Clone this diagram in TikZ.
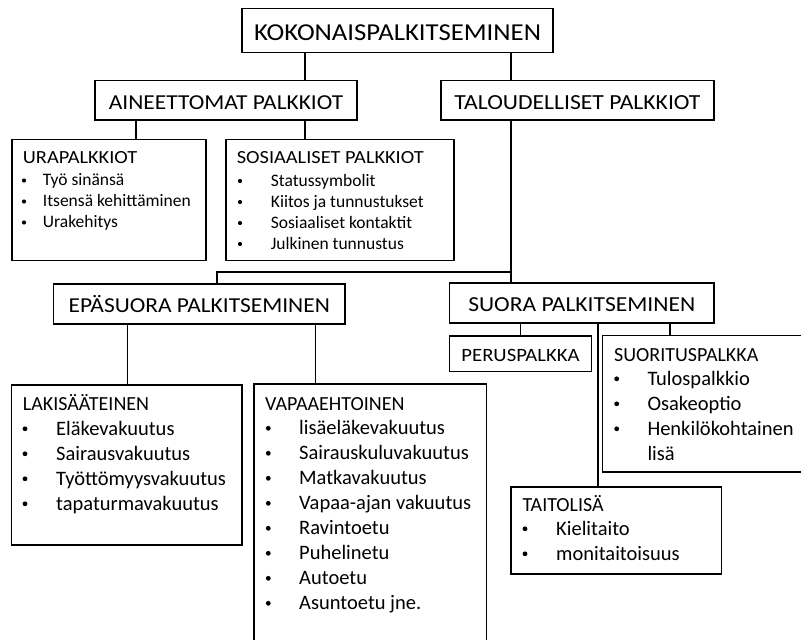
\documentclass[tikz,border=0pt]{standalone}
\usepackage{fontspec}
\setmainfont{Carlito}
\newfontfamily\widefont[FakeStretch=1.1]{Carlito}
\begin{document}
\begin{tikzpicture}[x=1pt,y=-1pt,
  box/.style={draw=black, line width=1.3pt, inner sep=0pt, outer sep=0pt},
  ln/.style={draw=black, line width=1.3pt},
  smallt/.style={anchor=base west, inner sep=0pt, font=\fontsize{17.5}{21}\selectfont},
  smallh/.style={anchor=base west, inner sep=0pt, font=\widefont\fontsize{18.5}{22}\selectfont},
  bigt/.style={anchor=base west, inner sep=0pt, font=\fontsize{20.5}{24}\selectfont},
  bigh/.style={anchor=base west, inner sep=0pt, font=\fontsize{20}{24}\selectfont},
  sdot/.style={circle, fill=black, inner sep=0pt, minimum size=4.2pt},
  bdot/.style={circle, fill=black, inner sep=0pt, minimum size=4.8pt}]
\clip (0,0) rectangle (801,640);
\useasboundingbox (0,0) rectangle (801,640);

% boxes
\node[box, minimum width=311, minimum height=44, font=\widefont\fontsize{24.3}{28}\selectfont, text height=19.6pt, text depth=0pt] (kok) at (397.5,30.3) {KOKONAISPALKITSEMINEN};
\node[box, minimum width=262, minimum height=39.7, font=\widefont\fontsize{21.3}{26}\selectfont, text height=17.7pt, text depth=0pt] (ain) at (226,100.2) {AINEETTOMAT PALKKIOT};
\node[box, minimum width=273, minimum height=39.7, font=\widefont\fontsize{21.5}{26}\selectfont, text height=17.8pt, text depth=0pt] (tal) at (577.5,100.2) {TALOUDELLISET PALKKIOT};
\node[box, minimum width=194, minimum height=121] (ura) at (109,200) {};
\node[box, minimum width=228, minimum height=121] (sos) at (340,200) {};
\node[box, minimum width=291.5, minimum height=40, font=\widefont\fontsize{21.3}{26}\selectfont, text height=17.7pt, text depth=0pt] (epa) at (199.25,304) {EPÄSUORA PALKITSEMINEN};
\node[box, minimum width=264.5, minimum height=40, font=\widefont\fontsize{21.4}{26}\selectfont, text height=17.8pt, text depth=0pt] (suo) at (581.75,303) {SUORA PALKITSEMINEN};
\node[box, minimum width=142, minimum height=35.5, font=\widefont\fontsize{18.8}{23}\selectfont, text height=14.6pt, text depth=0pt] (per) at (520.5,353.75) {PERUSPALKKA};
\node[box, minimum width=207.5, minimum height=136.5] (suor) at (706.25,403.75) {};
\node[box, minimum width=210.5, minimum height=87] (tai) at (616.25,530.5) {};
\node[box, minimum width=230.5, minimum height=160] (laki) at (126.75,465) {};
\node[box, minimum width=232.5, minimum height=276] (vap) at (370.25,522) {};

% connector columns
\coordinate (xa) at (305,0);
\coordinate (xb) at (511,0);
\coordinate (xc) at (136,0);
\coordinate (xd) at (217,0);
\coordinate (xe) at (127.7,0);
\coordinate (xf) at (315.3,0);
\coordinate (xg) at (520.7,0);
\coordinate (xh) at (598,0);
\coordinate (xi) at (670,0);
\coordinate (yj) at (0,272);

\draw[ln] (xa |- kok.south) -- (xa |- ain.north);
\draw[ln] (xb |- kok.south) -- (xb |- tal.north);
\draw[ln] (xc |- ain.south) -- (xc |- ura.north);
\draw[ln] (xa |- ain.south) -- (xa |- sos.north);
\draw[ln] (xb |- tal.south) -- (xb |- suo.north);
\draw[ln] (xb |- yj) -- (xd |- yj) -- (xd |- epa.north);
\draw[ln] (xe |- epa.south) -- (xe |- laki.north);
\draw[ln] (xf |- epa.south) -- (xf |- vap.north);
\draw[ln] (xg |- suo.south) -- (xg |- per.north);
\draw[ln] (xh |- suo.south) -- (xh |- tai.north);
\draw[ln] (xi |- suo.south) -- (xi |- suor.north);

% URAPALKKIOT
\node[smallh] (urat) at (22.7,163.3) {URAPALKKIOT};
\foreach \t [count=\i] in {Työ sinänsä, Itsensä kehittäminen, Urakehitys} {
  \node[sdot] (urab\i) at (24,159.5+21*\i) {};
  \node[smallt] (urai\i) at (42.7,164.5+21*\i) {\t};
}
% SOSIAALISET
\node[smallh] (sost) at (236.7,163.3) {SOSIAALISET PALKKIOT};
\foreach \t [count=\i] in {Statussymbolit, Kiitos ja tunnustukset, Sosiaaliset kontaktit, Julkinen tunnustus} {
  \node[sdot] (sosb\i) at (240,160+21*\i) {};
  \node[smallt] (sosi\i) at (270.7,165+21*\i) {\t};
}
% LAKISAATEINEN
\node[bigh] (lakit) at (22.7,410) {LAKISÄÄTEINEN};
\foreach \t [count=\i] in {Eläkevakuutus, Sairausvakuutus, Työttömyysvakuutus, tapaturmavakuutus} {
  \node[bdot] (lakib\i) at (25,403.8+25*\i) {};
  \node[bigt] (lakii\i) at (56,410+25*\i) {\t};
}
% VAPAAEHTOINEN
\node[bigh] (vapt) at (265,410) {VAPAAEHTOINEN};
\foreach \t [count=\i] in {lisäeläkevakuutus, Sairauskuluvakuutus, Matkavakuutus, Vapaa-ajan vakuutus, Ravintoetu, Puhelinetu, Autoetu, Asuntoetu jne.} {
  \node[bdot] (vapb\i) at (268.3,403.3+25*\i) {};
  \node[bigt] (vapi\i) at (299,409.5+25*\i) {\t};
}
% SUORITUSPALKKA
\node[bigh] (suort) at (614,361.7) {SUORITUSPALKKA};
\foreach \t [count=\i] in {Tulospalkkio, Osakeoptio, Henkilökohtainen} {
  \node[bdot] (suorb\i) at (616.7,353.8+25*\i) {};
  \node[bigt] (suori\i) at (647.3,360+25*\i) {\t};
}
\node[bigt] (suori4) at (647.3,460) {lisä};
% TAITOLISA
\node[bigh] (tait) at (522.3,511.7) {TAITOLISÄ};
\foreach \t [count=\i] in {Kielitaito, monitaitoisuus} {
  \node[bdot] (taib\i) at (525,503.8+25*\i) {};
  \node[bigt] (taii\i) at (556,510+25*\i) {\t};
}
\end{tikzpicture}
\end{document}
